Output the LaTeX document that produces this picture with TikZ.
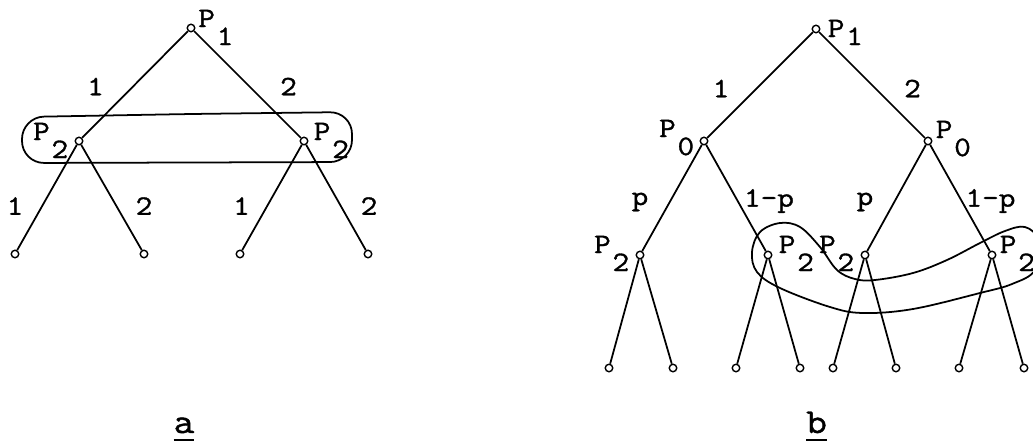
\documentclass[tikz,border=0pt]{standalone}
\usepackage{fontspec}
\newfontfamily\typew[FakeStretch=1.15, FakeBold=1.2]{Latin Modern Mono}
\usetikzlibrary{positioning}
\tikzstyle{vtx} = [circle, draw, fill=white, inner sep=0pt, minimum size=0.15cm, line width=0.8pt]
\tikzstyle{plab} = [font=\typew\fontsize{16}{18}\selectfont, inner sep=0pt]
\tikzstyle{elab} = [font=\typew\fontsize{16}{18}\selectfont, inner sep=0pt]
\tikzstyle{caplab} = [font=\typew\fontsize{20}{22}\selectfont, inner sep=0pt]
\tikzstyle{branch} = [line width=1pt]
\tikzstyle{infoset} = [line width=1pt]
\newcommand{\lowidx}[2][0.36cm]{\kern1pt\raisebox{-#1}{#2}}
\newcommand{\capul}[1]{\makebox[0.42cm]{#1}\llap{\rule[-4.5pt]{0.42cm}{1pt}}}

\begin{document}
\begin{tikzpicture}[node distance=2.26cm, on grid]

\useasboundingbox (0,0) rectangle (20.66,-8.88);

% Tree a
\node[vtx] (ar) at (3.82,-0.56) {};
\node[vtx] (a1) [below left=2.26cm and 2.24cm of ar] {};
\node[vtx] (a2) [below right=2.26cm and 2.26cm of ar] {};
\node[vtx] (a11) [below left=2.26cm and 1.28cm of a1] {};
\node[vtx] (a12) [below right=2.26cm and 1.30cm of a1] {};
\node[vtx] (a21) [below left=2.26cm and 1.28cm of a2] {};
\node[vtx] (a22) [below right=2.26cm and 1.28cm of a2] {};

\node[plab, anchor=base west] (arlab) at ([xshift=0.05cm, yshift=0.02cm]ar.east) {P\lowidx{1}};
\node[plab, anchor=base east] (a1lab) at ([xshift=-0.12cm, yshift=0.02cm]a1.west) {P\lowidx{2}};
\node[plab, anchor=base west] (a2lab) at ([xshift=0.10cm, yshift=0.02cm]a2.east) {P\lowidx{2}};

\draw[branch] (ar) -- node[elab, xshift=-0.79cm, yshift=-0.04cm] {1} (a1);
\draw[branch] (ar) -- node[elab, xshift=0.82cm, yshift=-0.04cm] {2} (a2);
\draw[branch] (a1) -- node[elab, xshift=-0.64cm, yshift=-0.17cm] {1} (a11);
\draw[branch] (a1) -- node[elab, xshift=0.65cm, yshift=-0.17cm] {2} (a12);
\draw[branch] (a2) -- node[elab, xshift=-0.61cm, yshift=-0.17cm] {1} (a21);
\draw[branch] (a2) -- node[elab, xshift=0.66cm, yshift=-0.17cm] {2} (a22);

% information set of P2
\draw[infoset, rounded corners=0.44cm] (3.80,-2.28) -- (7.04,-2.24) -- (7.04,-3.24)
  -- (0.44,-3.26) -- (0.44,-2.34) -- cycle;

\node[caplab, anchor=base] (capa) at (3.68,-8.66) {\capul{a}};

% Tree b
\node[vtx] (br) at (16.32,-0.58) {};
\node[vtx] (b1) [below left=2.24cm and 2.24cm of br] {};
\node[vtx] (b2) [below right=2.24cm and 2.24cm of br] {};
\node[vtx] (b11) [below left=2.28cm and 1.28cm of b1] {};
\node[vtx] (b12) [below right=2.28cm and 1.28cm of b1] {};
\node[vtx] (b21) [below left=2.28cm and 1.26cm of b2] {};
\node[vtx] (b22) [below right=2.28cm and 1.28cm of b2] {};
\node[vtx] (b111) [below left=2.26cm and 0.62cm of b11] {};
\node[vtx] (b112) [below right=2.26cm and 0.66cm of b11] {};
\node[vtx] (b121) [below left=2.26cm and 0.64cm of b12] {};
\node[vtx] (b122) [below right=2.26cm and 0.64cm of b12] {};
\node[vtx] (b211) [below left=2.26cm and 0.64cm of b21] {};
\node[vtx] (b212) [below right=2.26cm and 0.62cm of b21] {};
\node[vtx] (b221) [below left=2.26cm and 0.66cm of b22] {};
\node[vtx] (b222) [below right=2.26cm and 0.64cm of b22] {};

\node[plab, anchor=base west] (brlab) at ([xshift=0.14cm, yshift=-0.16cm]br.east) {P\lowidx[0.16cm]{1}};
\node[plab, anchor=base east] (b1lab) at ([xshift=-0.10cm, yshift=0.08cm]b1.west) {P\lowidx{0}};
\node[plab, anchor=base west] (b2lab) at ([xshift=0.06cm, yshift=0.06cm]b2.east) {P\lowidx{0}};
\node[plab, anchor=base east] (b11lab) at ([xshift=-0.12cm, yshift=0.04cm]b11.west) {P\lowidx{2}};
\node[plab, anchor=base west] (b12lab) at ([xshift=0.12cm, yshift=0.04cm]b12.east) {P\lowidx{2}};
\node[plab, anchor=base east] (b21lab) at ([xshift=-0.12cm, yshift=0.04cm]b21.west) {P\lowidx{2}};
\node[plab, anchor=base west] (b22lab) at ([xshift=0.06cm, yshift=0.04cm]b22.east) {P\lowidx{2}};

\draw[branch] (br) -- node[elab, xshift=-0.78cm, yshift=-0.07cm] {1} (b1);
\draw[branch] (br) -- node[elab, xshift=0.81cm, yshift=-0.07cm] {2} (b2);
\draw[branch] (b1) -- node[elab, xshift=-0.64cm, yshift=-0.08cm] {p} (b11);
\draw[branch] (b1) -- node[elab, xshift=0.66cm, yshift=-0.06cm] {1-p} (b12);
\draw[branch] (b2) -- node[elab, xshift=-0.63cm, yshift=-0.08cm] {p} (b21);
\draw[branch] (b2) -- node[elab, xshift=0.61cm, yshift=-0.06cm] {1-p} (b22);

\foreach \n in {b11,b12,b21,b22} {
  \draw[branch] (\n) -- (\n1);
  \draw[branch] (\n) -- (\n2);
}

% information set of P2 in b
\draw[infoset] plot[smooth cycle, tension=0.6] coordinates {
  (15.60,-4.46) (16.00,-4.54) (16.40,-4.94) (16.74,-5.40) (17.10,-5.58)
  (17.50,-5.60) (18.26,-5.46) (18.94,-5.20) (19.60,-4.86) (20.10,-4.62)
  (20.50,-4.54) (20.76,-4.80) (20.70,-5.40) (20.24,-5.68) (19.60,-5.86)
  (18.26,-6.18) (17.26,-6.26) (16.60,-6.14) (15.60,-5.76) (15.14,-5.44)
  (15.04,-5.04) (15.20,-4.64)};

\node[caplab, anchor=base] (capb) at (16.33,-8.66) {\capul{b}};

\end{tikzpicture}
\end{document}
